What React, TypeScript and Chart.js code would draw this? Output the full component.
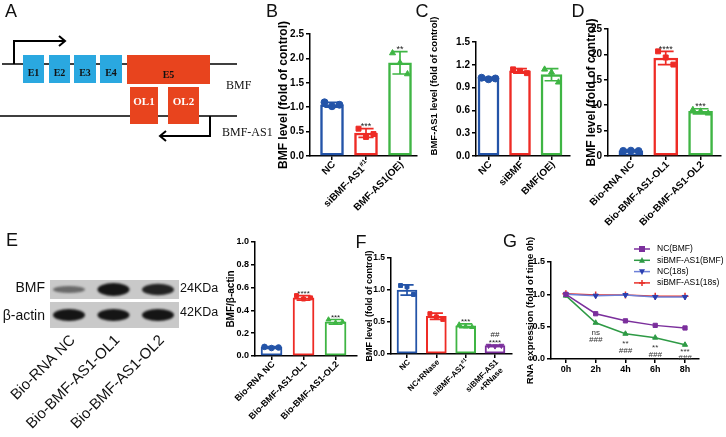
import { useEffect, useRef } from 'react';
import { Chart, registerables } from 'chart.js';

Chart.register(...registerables);

const W = 726;
const H = 437;
const SANS = '"Liberation Sans", Arial, Helvetica, sans-serif';
const SERIF = '"Liberation Serif", "Times New Roman", serif';

const BLUE = '#2454a8';
const RED = '#ee2b25';
const GREEN = '#3fb544';
const PURPLE = '#7b2f9c';

// ---------------- Panel letters ----------------
const panelLetters = ['A', 'B', 'C', 'D', 'E', 'F', 'G'];

// ---------------- Panel A : gene schematic ----------------
const exonLabels = ['E1', 'E2', 'E3', 'E4', 'E5'];
const exonStart = [23, 49, 74, 100, 127];
const exonEnd = [44, 70, 96, 122, 210];
const overlapLabels = ['OL1', 'OL2'];
const overlapStart = [130, 168];
const overlapEnd = [158, 199];
const transcriptLabels = ['BMF', 'BMF-AS1'];

// ---------------- Panel B ----------------
const bCategories = ['NC', 'siBMF-AS1^#1', 'BMF-AS1(OE)'];
const bMeans = [1.05, 0.47, 1.91];
const bSD = [0.05, 0.09, 0.23];
const bReplicates = [[1.10, 1.02, 1.05], [0.56, 0.39, 0.45], [2.11, 1.91, 1.68]];
const bStars = ['', '***', '**'];
const bTicks = [0, 0.5, 1, 1.5, 2, 2.5];

// ---------------- Panel C ----------------
const cCategories = ['NC', 'siBMF', 'BMF(OE)'];
const cMeans = [1.02, 1.12, 1.07];
const cSD = [0.015, 0.03, 0.08];
const cReplicates = [[1.03, 1.01, 1.02], [1.14, 1.12, 1.09], [1.14, 1.10, 0.97]];
const cStars = ['', '', ''];
const cTicks = [0, 0.3, 0.6, 0.9, 1.2, 1.5];

// ---------------- Panel D ----------------
const dCategories = ['Bio-RNA NC', 'Bio-BMF-AS1-OL1', 'Bio-BMF-AS1-OL2'];
const dMeans = [1.0, 19.3, 8.8];
const dSD = [0.15, 1.3, 0.5];
const dReplicates = [[1.0, 1.05, 0.98], [20.6, 19.4, 18.0], [9.1, 8.8, 8.4]];
const dStars = ['', '****', '***'];
const dTicks = [0, 5, 10, 15, 20, 25];

// ---------------- Panel E : blot + quantification ----------------
const blotLanes = ['Bio-RNA NC', 'Bio-BMF-AS1-OL1', 'Bio-BMF-AS1-OL2'];
const blotRows = ['BMF', 'β-actin'];
const blotSizes = ['24KDa', '42KDa'];
const bmfBandIntensity = [0.35, 1.0, 0.85];
const actinBandIntensity = [0.95, 0.95, 0.95];

const eCategories = ['Bio-RNA NC', 'Bio-BMF-AS1-OL1', 'Bio-BMF-AS1-OL2'];
const eMeans = [0.075, 0.51, 0.30];
const eSD = [0.008, 0.02, 0.02];
const eReplicates = [[0.08, 0.07, 0.075], [0.53, 0.50, 0.51], [0.32, 0.29, 0.30]];
const eStars = ['', '****', '***'];
const eTicks = [0, 0.2, 0.4, 0.6, 0.8, 1.0];

// ---------------- Panel F ----------------
const fCategories = ['NC', 'NC+RNase', 'siBMF-AS1^#1', 'siBMF-AS1\n+RNase'];
const fMeans = [1.0, 0.59, 0.44, 0.13];
const fSD = [0.08, 0.05, 0.03, 0.01];
const fReplicates = [[1.07, 1.05, 0.93], [0.63, 0.58, 0.54], [0.46, 0.43, 0.42], [0.13, 0.12, 0.13]];
const fStars = ['', '', '***', '****'];
const fHashes = ['', '', '', '##'];
const fTicks = [0, 0.5, 1.0, 1.5];

// ---------------- Panel G ----------------
const gTimes = [0, 2, 4, 6, 8];
const gNcBmf = [1.0, 0.70, 0.59, 0.52, 0.48];
const gSiBmf = [0.98, 0.56, 0.39, 0.33, 0.22];
const gNc18s = [1.0, 0.98, 0.99, 0.96, 0.96];
const gSi18s = [1.01, 0.99, 0.99, 0.97, 0.97];
const gSigStars = ['', 'ns', '**', '**', '***'];
const gSigHash = ['', '###', '###', '###', '###'];
const gSeriesNames = ['NC(BMF)', 'siBMF-AS1(BMF)', 'NC(18s)', 'siBMF-AS1(18s)'];
const gTicks = [0, 0.5, 1.0, 1.5];

const JITTER = [-0.22, 0, 0.22];

type BarPanel = {
  titleX: number; titleY?: number; x0: number; x1: number; top: number; bottom: number;
  xMin: number; xMax: number; yTicks: number[]; decimals: number;
  categories: string[]; means: number[]; sds: number[]; reps: number[][];
  colors: string[]; shapes: string[]; stars: string[]; hashes?: string[];
  title: string; titleSize: number; tickSize: number; labelSize: number; starSize: number;
  barWidth: number; borderWidth: number; pointRadius: number;
};

function drawRotLabel(ctx: CanvasRenderingContext2D, text: string, x: number, y: number, size: number, bold: boolean) {
  ctx.save();
  ctx.translate(x, y);
  ctx.rotate(-Math.PI / 4);
  ctx.fillStyle = '#000';
  ctx.textBaseline = 'middle';
  ctx.textAlign = 'left';
  const w = bold ? 'bold ' : '';
  const lines = text.split('\n');
  lines.forEach((ln, k) => {
    const parts = ln.split('^');
    const main = parts[0];
    const sup = parts[1] || '';
    ctx.font = `${w}${size}px ${SANS}`;
    const wm = ctx.measureText(main).width;
    let ws = 0;
    if (sup) {
      ctx.font = `${w}${size * 0.65}px ${SANS}`;
      ws = ctx.measureText(sup).width;
    }
    const yy = k * size * 1.15;
    const shift = k > 0 ? -size * 0.3 : 0;
    ctx.font = `${w}${size}px ${SANS}`;
    ctx.fillText(main, -(wm + ws) + shift, yy);
    if (sup) {
      ctx.font = `${w}${size * 0.65}px ${SANS}`;
      ctx.fillText(sup, -ws + shift, yy - size * 0.35);
    }
  });
  ctx.restore();
}

function barDeco(p: BarPanel) {
  return {
    id: 'barDeco',
    afterDatasetsDraw(chart: any) {
      const ctx: CanvasRenderingContext2D = chart.ctx;
      const xs = chart.scales.x;
      const ys = chart.scales.y;
      ctx.save();
      p.means.forEach((m, i) => {
        const cx = xs.getPixelForValue(i);
        const yT = ys.getPixelForValue(m + p.sds[i]);
        const yB = ys.getPixelForValue(Math.max(0, m - p.sds[i]));
        const cap = p.barWidth * 0.33;
        ctx.strokeStyle = p.colors[i];
        ctx.lineWidth = 1.7;
        ctx.beginPath();
        ctx.moveTo(cx, yT); ctx.lineTo(cx, yB);
        ctx.moveTo(cx - cap, yT); ctx.lineTo(cx + cap, yT);
        ctx.moveTo(cx - cap, yB); ctx.lineTo(cx + cap, yB);
        ctx.stroke();
        ctx.fillStyle = '#222';
        ctx.textAlign = 'center';
        ctx.textBaseline = 'alphabetic';
        ctx.font = `${p.starSize}px ${SANS}`;
        const base = yT - 2.5 + p.starSize * 0.35;
        if (p.stars[i]) ctx.fillText(p.stars[i], cx, base);
        if (p.hashes && p.hashes[i]) ctx.fillText(p.hashes[i], cx, base - p.starSize * 1.05);
      });
      ctx.restore();
    },
    afterDraw(chart: any) {
      const ctx: CanvasRenderingContext2D = chart.ctx;
      const xs = chart.scales.x;
      p.categories.forEach((c, i) => {
        drawRotLabel(ctx, c, xs.getPixelForValue(i) + 2, p.bottom + 7, p.labelSize, true);
      });
      if (p.titleY !== undefined) {
        ctx.save();
        ctx.translate(p.titleX, p.titleY);
        ctx.rotate(-Math.PI / 2);
        ctx.fillStyle = '#000';
        ctx.font = `bold ${p.titleSize}px ${SANS}`;
        ctx.textAlign = 'center';
        ctx.textBaseline = 'middle';
        ctx.fillText(p.title, 0, 0);
        ctx.restore();
      }
    },
  };
}

function makeBarChart(canvas: HTMLCanvasElement, p: BarPanel) {
  const pts: { x: number; y: number }[] = [];
  const styles: string[] = [];
  const rots: number[] = [];
  const cols: string[] = [];
  p.reps.forEach((r, i) => r.forEach((v, j) => {
    pts.push({ x: i + JITTER[j % 3], y: v });
    const s = p.shapes[i];
    styles.push(s === 'triangleDown' ? 'triangle' : s);
    rots.push(s === 'triangleDown' ? 180 : 0);
    cols.push(p.colors[i]);
  }));
  const padLeft = p.titleX - p.titleSize * 0.6;
  return new Chart(canvas, {
    type: 'bar',
    data: {
      datasets: [
        {
          type: 'bar',
          data: p.means.map((m, i) => ({ x: i, y: m })),
          backgroundColor: '#ffffff',
          borderColor: p.colors,
          borderWidth: p.borderWidth,
          borderSkipped: false,
          barThickness: p.barWidth,
          order: 2,
        } as any,
        {
          type: 'scatter',
          data: pts,
          pointStyle: styles,
          pointRotation: rots,
          pointBackgroundColor: cols,
          pointBorderColor: cols,
          pointRadius: p.pointRadius,
          pointBorderWidth: 1,
          order: 1,
        } as any,
      ],
    },
    options: {
      responsive: false,
      animation: false,
      devicePixelRatio: 1,
      events: [],
      layout: { padding: { left: padLeft, top: p.top, right: W - p.x1, bottom: 0 } },
      plugins: { legend: { display: false }, tooltip: { enabled: false } },
      scales: {
        x: {
          type: 'linear', min: p.xMin, max: p.xMax, offset: false,
          afterBuildTicks: (a: any) => { a.ticks = p.categories.map((_, i) => ({ value: i })); },
          afterFit: (s: any) => { s.height = H - p.bottom; s.paddingLeft = 0; s.paddingRight = 0; },
          ticks: { display: false },
          grid: { drawOnChartArea: false, drawTicks: true, tickLength: 4, color: '#000', lineWidth: 1.5, offset: false },
          border: { color: '#000', width: 1.5 },
        },
        y: {
          type: 'linear', min: 0, max: p.yTicks[p.yTicks.length - 1],
          afterBuildTicks: (a: any) => { a.ticks = p.yTicks.map((v) => ({ value: v })); },
          afterFit: (s: any) => { s.width = p.x0 - padLeft; s.paddingTop = 0; s.paddingBottom = 0; },
          ticks: {
            autoSkip: false, color: '#000', padding: 2,
            font: { family: SANS, size: p.tickSize, weight: 'bold' },
            callback: (v: any) => Number(v).toFixed(p.decimals),
          },
          title: { display: p.titleY === undefined, text: p.title, color: '#000', padding: 0, font: { family: SANS, size: p.titleSize, weight: 'bold' } },
          grid: { drawOnChartArea: false, drawTicks: true, tickLength: 4, color: '#000', lineWidth: 1.5 },
          border: { color: '#000', width: 1.5 },
        },
      },
    } as any,
    plugins: [barDeco(p)],
  });
}

function drawMarker(ctx: CanvasRenderingContext2D, style: string, x: number, y: number, r: number, color: string) {
  ctx.fillStyle = color;
  ctx.strokeStyle = color;
  ctx.beginPath();
  if (style === 'rect') {
    ctx.fillRect(x - r, y - r, 2 * r, 2 * r);
  } else if (style === 'triangle') {
    ctx.moveTo(x, y - r * 1.1); ctx.lineTo(x + r, y + r * 0.8); ctx.lineTo(x - r, y + r * 0.8); ctx.closePath(); ctx.fill();
  } else if (style === 'triangleDown') {
    ctx.moveTo(x, y + r * 1.1); ctx.lineTo(x + r, y - r * 0.8); ctx.lineTo(x - r, y - r * 0.8); ctx.closePath(); ctx.fill();
  } else if (style === 'cross') {
    ctx.lineWidth = 1.5;
    ctx.moveTo(x - r, y); ctx.lineTo(x + r, y); ctx.moveTo(x, y - r); ctx.lineTo(x, y + r); ctx.stroke();
  }
}

const G_LINE = [PURPLE, '#2e9a45', '#6d80d8', '#e8302a'];
const G_MARK = [PURPLE, '#2e9a45', '#2a3fb0', '#e8302a'];
const G_STYLE = ['rect', 'triangle', 'triangleDown', 'cross'];

function makeLineChart(canvas: HTMLCanvasElement) {
  const titleX = 530, titleSize = 9.5, x0 = 551, x1 = 699, top = 262, bottom = 359;
  const padLeft = titleX - titleSize * 0.6;
  const series = [gNcBmf, gSiBmf, gNc18s, gSi18s];
  const deco = {
    id: 'gDeco',
    afterDraw(chart: any) {
      const ctx: CanvasRenderingContext2D = chart.ctx;
      const xs = chart.scales.x, ys = chart.scales.y;
      ctx.save();
      ctx.fillStyle = '#333';
      ctx.textAlign = 'center';
      ctx.textBaseline = 'alphabetic';
      gTimes.forEach((t, i) => {
        const px = xs.getPixelForValue(t);
        const py = ys.getPixelForValue(gSiBmf[i]);
        if (gSigStars[i]) {
          ctx.font = `8px ${SANS}`;
          ctx.fillText(gSigStars[i], px, Math.min(py + 12, bottom - 5));
        }
        if (gSigHash[i]) {
          ctx.font = `italic 8px ${SANS}`;
          ctx.fillText(gSigHash[i], px, Math.min(py + 19, bottom + 1));
        }
      });
      // legend
      gSeriesNames.forEach((n, i) => {
        const y = 249 + i * 11.3;
        ctx.strokeStyle = G_LINE[i];
        ctx.lineWidth = 1.5;
        ctx.beginPath(); ctx.moveTo(634, y); ctx.lineTo(650, y); ctx.stroke();
        drawMarker(ctx, G_STYLE[i], 642, y, 3, G_MARK[i]);
        ctx.fillStyle = '#000';
        ctx.textAlign = 'left';
        ctx.textBaseline = 'middle';
        ctx.font = `8.5px ${SANS}`;
        ctx.fillText(n, 657, y);
      });
      ctx.restore();
    },
  };
  return new Chart(canvas, {
    type: 'line',
    data: {
      datasets: series.map((s, k) => ({
        label: gSeriesNames[k],
        data: gTimes.map((t, i) => ({ x: t, y: s[i] })),
        borderColor: G_LINE[k],
        backgroundColor: G_MARK[k],
        pointBackgroundColor: G_MARK[k],
        pointBorderColor: G_MARK[k],
        pointStyle: G_STYLE[k] === 'triangleDown' ? 'triangle' : G_STYLE[k],
        pointRotation: G_STYLE[k] === 'triangleDown' ? 180 : 0,
        pointRadius: G_STYLE[k] === 'cross' ? 3.5 : 3,
        pointBorderWidth: G_STYLE[k] === 'cross' ? 1.5 : 1,
        borderWidth: 1.5,
        fill: false,
        tension: 0,
      })) as any,
    },
    options: {
      responsive: false,
      animation: false,
      devicePixelRatio: 1,
      events: [],
      layout: { padding: { left: padLeft, top, right: W - x1, bottom: 0 } },
      plugins: { legend: { display: false }, tooltip: { enabled: false } },
      scales: {
        x: {
          type: 'linear', min: -1, max: 8.94,
          afterBuildTicks: (a: any) => { a.ticks = gTimes.map((v) => ({ value: v })); },
          afterFit: (s: any) => { s.height = H - bottom; s.paddingLeft = 0; s.paddingRight = 0; },
          ticks: { autoSkip: false, maxRotation: 0, minRotation: 0, color: '#000', padding: 1, font: { family: SANS, size: 9, weight: 'bold' }, callback: (v: any) => `${v}h` },
          grid: { drawOnChartArea: false, drawTicks: true, tickLength: 4, color: '#000', lineWidth: 1.5 },
          border: { color: '#000', width: 1.5 },
        },
        y: {
          type: 'linear', min: 0, max: 1.5,
          afterBuildTicks: (a: any) => { a.ticks = gTicks.map((v) => ({ value: v })); },
          afterFit: (s: any) => { s.width = x0 - padLeft; s.paddingTop = 0; s.paddingBottom = 0; },
          ticks: { autoSkip: false, color: '#000', padding: 2, font: { family: SANS, size: 9, weight: 'bold' }, callback: (v: any) => Number(v).toFixed(1) },
          title: { display: true, text: 'RNA expression (fold of time 0h)', color: '#000', padding: 0, font: { family: SANS, size: titleSize, weight: 'bold' } },
          grid: { drawOnChartArea: false, drawTicks: true, tickLength: 4, color: '#000', lineWidth: 1.5 },
          border: { color: '#000', width: 1.5 },
        },
      },
    } as any,
    plugins: [deco],
  });
}

const backgroundPlugin = {
  id: 'bgDeco',
  afterDraw(chart: any) {
    const ctx: CanvasRenderingContext2D = chart.ctx;
    const X = (v: number) => chart.scales.x.getPixelForValue(v);
    const Y = (v: number) => chart.scales.y.getPixelForValue(v);
    ctx.save();
    // panel letters
    const letterPos = [[11, 12], [272, 12], [422, 12], [578, 12], [12, 241], [361, 243], [510, 242]];
    ctx.fillStyle = '#111';
    ctx.font = `18px ${SANS}`;
    ctx.textAlign = 'center';
    ctx.textBaseline = 'middle';
    panelLetters.forEach((l, i) => ctx.fillText(l, X(letterPos[i][0]), Y(letterPos[i][1])));

    // ---- schematic ----
    ctx.strokeStyle = '#000';
    ctx.lineWidth = 1.5;
    ctx.beginPath();
    ctx.moveTo(X(2), Y(64)); ctx.lineTo(X(237), Y(64));
    ctx.moveTo(X(0), Y(116)); ctx.lineTo(X(237), Y(116));
    ctx.stroke();
    // arrows
    ctx.lineWidth = 2;
    ctx.beginPath();
    ctx.moveTo(X(14), Y(64)); ctx.lineTo(X(14), Y(41)); ctx.lineTo(X(65), Y(41));
    ctx.moveTo(X(59), Y(36)); ctx.lineTo(X(65), Y(41)); ctx.lineTo(X(59), Y(46));
    ctx.moveTo(X(210), Y(116)); ctx.lineTo(X(210), Y(136)); ctx.lineTo(X(160), Y(136));
    ctx.moveTo(X(166), Y(131)); ctx.lineTo(X(160), Y(136)); ctx.lineTo(X(166), Y(141));
    ctx.stroke();
    // exons
    exonLabels.forEach((lab, i) => {
      const isLast = i === exonLabels.length - 1;
      ctx.fillStyle = isLast ? '#e8441e' : '#2aa8e0';
      const y0 = Y(55), y1 = Y(isLast ? 84 : 83);
      ctx.fillRect(X(exonStart[i]), y0, X(exonEnd[i]) - X(exonStart[i]), y1 - y0);
      ctx.fillStyle = '#111';
      ctx.font = `bold 10px ${SERIF}`;
      ctx.textAlign = 'center';
      ctx.textBaseline = 'middle';
      ctx.fillText(lab, (X(exonStart[i]) + X(exonEnd[i])) / 2, Y(isLast ? 75 : 73));
    });
    overlapLabels.forEach((lab, i) => {
      ctx.fillStyle = '#e8441e';
      ctx.fillRect(X(overlapStart[i]), Y(87), X(overlapEnd[i]) - X(overlapStart[i]), Y(124) - Y(87));
      ctx.fillStyle = '#fff';
      ctx.font = `bold 11px ${SERIF}`;
      ctx.textAlign = 'center';
      ctx.textBaseline = 'middle';
      ctx.fillText(lab, (X(overlapStart[i]) + X(overlapEnd[i])) / 2, Y(102));
    });
    ctx.fillStyle = '#111';
    ctx.font = `12px ${SERIF}`;
    ctx.textAlign = 'left';
    ctx.textBaseline = 'middle';
    ctx.fillText(transcriptLabels[0], X(226), Y(86));
    ctx.fillText(transcriptLabels[1], X(222), Y(133));

    // ---- western blot ----
    const laneX = (i: number) => X(69 + i * 44.5);
    const strips = [[280, 299], [302, 328]];
    const intens = [bmfBandIntensity, actinBandIntensity];
    strips.forEach((s, r) => {
      ctx.fillStyle = '#c9c9c9';
      ctx.fillRect(X(50), Y(s[0]), X(179) - X(50), Y(s[1]) - Y(s[0]));
      const cy = (Y(s[0]) + Y(s[1])) / 2;
      intens[r].forEach((v, i) => {
        ctx.save();
        ctx.filter = 'blur(1.3px)';
        ctx.globalAlpha = Math.min(1, 0.25 + v * 0.8);
        ctx.fillStyle = '#151515';
        const hh = r === 0 ? 2 + v * 4.5 : 6;
        const ww = 16;
        ctx.beginPath();
        ctx.ellipse(laneX(i), cy, ww, hh, 0, 0, Math.PI * 2);
        ctx.fill();
        ctx.restore();
      });
    });
    ctx.fillStyle = '#111';
    ctx.font = `14px ${SANS}`;
    ctx.textAlign = 'right';
    ctx.textBaseline = 'middle';
    ctx.fillText(blotRows[0], X(45), Y(288));
    ctx.fillText(blotRows[1], X(45), Y(316));
    ctx.font = `12.5px ${SANS}`;
    ctx.textAlign = 'left';
    ctx.fillText(blotSizes[0], X(180), Y(289));
    ctx.fillText(blotSizes[1], X(180), Y(313));
    blotLanes.forEach((l, i) => {
      ctx.save();
      ctx.translate(laneX(i) + 4, Y(338));
      ctx.rotate(-Math.PI / 4);
      ctx.font = `15px ${SANS}`;
      ctx.textAlign = 'right';
      ctx.textBaseline = 'middle';
      ctx.fillStyle = '#111';
      ctx.fillText(l, 0, 0);
      ctx.restore();
    });
    ctx.restore();
  },
};

function makeBackground(canvas: HTMLCanvasElement) {
  return new Chart(canvas, {
    type: 'scatter',
    data: { datasets: [] },
    options: {
      responsive: false,
      animation: false,
      devicePixelRatio: 1,
      events: [],
      layout: { padding: 0 },
      plugins: { legend: { display: false }, tooltip: { enabled: false } },
      scales: {
        x: { type: 'linear', min: 0, max: W, display: false },
        y: { type: 'linear', min: 0, max: H, reverse: true, display: false },
      },
    } as any,
    plugins: [backgroundPlugin],
  });
}

const panelB: BarPanel = {
  titleX: 284, x0: 310, x1: 417, top: 34, bottom: 156, xMin: -0.647, xMax: 2.5, yTicks: bTicks, decimals: 1,
  categories: bCategories, means: bMeans, sds: bSD, reps: bReplicates, colors: [BLUE, RED, GREEN],
  shapes: ['circle', 'rect', 'triangle'], stars: bStars, title: 'BMF level (fold of control)',
  titleSize: 12, tickSize: 10, labelSize: 10, starSize: 9, barWidth: 23, borderWidth: 2.5, pointRadius: 3.5,
};
const panelC: BarPanel = {
  titleX: 434, titleY: 86, x0: 476, x1: 570, top: 42, bottom: 156, xMin: -0.397, xMax: 2.587, yTicks: cTicks, decimals: 1,
  categories: cCategories, means: cMeans, sds: cSD, reps: cReplicates, colors: [BLUE, RED, GREEN],
  shapes: ['circle', 'rect', 'triangle'], stars: cStars, title: 'BMF-AS1 level (fold of control)',
  titleSize: 9.5, tickSize: 10, labelSize: 10, starSize: 9, barWidth: 21, borderWidth: 2.5, pointRadius: 3.5,
};
const panelD: BarPanel = {
  titleX: 592, x0: 608, x1: 724, top: 29, bottom: 156, xMin: -0.657, xMax: 2.587, yTicks: dTicks, decimals: 0,
  categories: dCategories, means: dMeans, sds: dSD, reps: dReplicates, colors: [BLUE, RED, GREEN],
  shapes: ['circle', 'rect', 'triangle'], stars: dStars, title: 'BMF level (fold of control)',
  titleSize: 12, tickSize: 10, labelSize: 10, starSize: 9, barWidth: 24, borderWidth: 2.5, pointRadius: 3.5,
};
const panelE: BarPanel = {
  titleX: 231, x0: 255, x1: 357, top: 242, bottom: 356, xMin: -0.516, xMax: 2.67, yTicks: eTicks, decimals: 1,
  categories: eCategories, means: eMeans, sds: eSD, reps: eReplicates, colors: [BLUE, RED, GREEN],
  shapes: ['circle', 'rect', 'triangle'], stars: eStars, title: 'BMF/β-actin',
  titleSize: 10, tickSize: 9, labelSize: 9, starSize: 8, barWidth: 21, borderWidth: 2, pointRadius: 2.8,
};
const panelF: BarPanel = {
  titleX: 370, x0: 391, x1: 512, top: 258, bottom: 354, xMin: -0.546, xMax: 3.58, yTicks: fTicks, decimals: 1,
  categories: fCategories, means: fMeans, sds: fSD, reps: fReplicates, colors: [BLUE, RED, GREEN, PURPLE],
  shapes: ['rect', 'rect', 'triangle', 'triangleDown'], stars: fStars, hashes: fHashes, title: 'BMF level (fold of control)',
  titleSize: 9, tickSize: 8.5, labelSize: 8, starSize: 8, barWidth: 20, borderWidth: 2, pointRadius: 2.8,
};

export default function App() {
  const canvases = useRef<(HTMLCanvasElement | null)[]>([]);
  useEffect(() => {
    const cs = canvases.current as HTMLCanvasElement[];
    const charts = [
      makeBackground(cs[0]),
      makeBarChart(cs[1], panelB),
      makeBarChart(cs[2], panelC),
      makeBarChart(cs[3], panelD),
      makeBarChart(cs[4], panelE),
      makeBarChart(cs[5], panelF),
      makeLineChart(cs[6]),
    ];
    return () => charts.forEach((c) => c.destroy());
  }, []);
  return (
    <div style={{ position: 'fixed', left: 0, top: 0, width: W, height: H, background: '#fff', overflow: 'hidden' }}>
      {[0, 1, 2, 3, 4, 5, 6].map((i) => (
        <canvas
          key={i}
          ref={(el) => { canvases.current[i] = el; }}
          width={W}
          height={H}
          style={{ position: 'absolute', left: 0, top: 0, width: W, height: H }}
        />
      ))}
    </div>
  );
}
